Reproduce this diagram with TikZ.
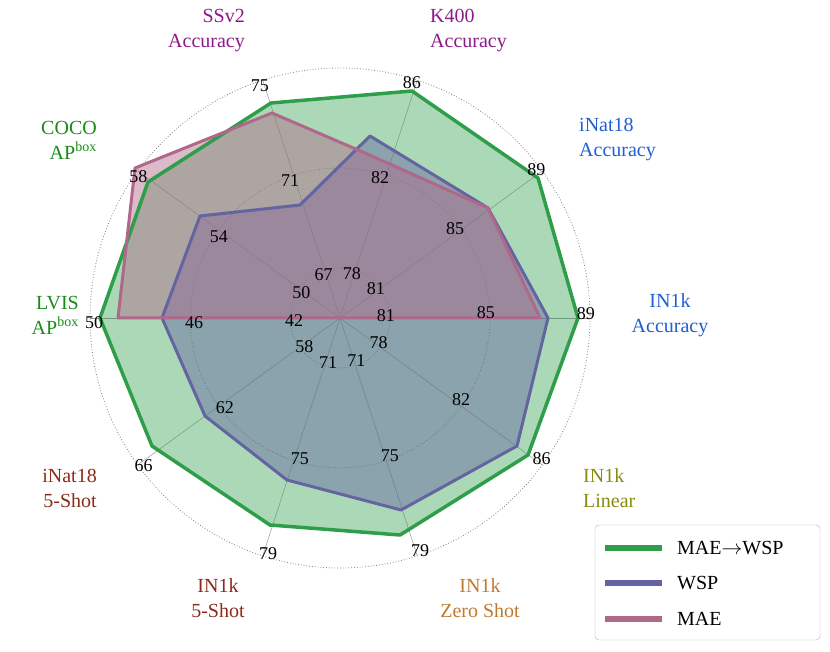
\documentclass[tikz,border=0pt]{standalone}
\usepackage{fontspec}
\setmainfont{Liberation Serif}
\begin{document}
\begin{tikzpicture}[x=1pt,y=-1pt,
  tick/.style={font=\fontsize{18}{18}\selectfont,inner sep=1pt},
  alab/.style={font=\fontsize{20}{25}\selectfont,align=center,inner sep=0pt}]
\definecolor{cgreen}{HTML}{2E9E4A}
\definecolor{cblue}{HTML}{6464A0}
\definecolor{cred}{HTML}{B0688A}
\definecolor{tblue}{HTML}{1F5FCF}
\definecolor{tpurp}{HTML}{8B1A8B}
\definecolor{tgreen}{HTML}{1A8A1A}
\definecolor{tbrown}{HTML}{8B2A1A}
\definecolor{torange}{HTML}{C07A30}
\definecolor{tolive}{HTML}{8A8A10}
\useasboundingbox (0,0) rectangle (830,652);
% grid
\foreach \r in {50,150,250} \draw[gray,dotted,line width=0.8pt] (340,318) circle (\r);
\foreach \a in {0,36,...,324} \draw[gray!80,line width=0.5pt] (340,318) -- ++({250*cos(\a)},{-250*sin(\a)});
% polygons
\fill[cgreen,opacity=0.4] (578,318)--(538,178)--(412,91)--(271,103)--(148,182)--(100,318)--(152,446)--(270,525)--(400,535)--(528,455)--cycle;
\fill[cblue,opacity=0.45] (548,318)--(488,208)--(370,136)--(300,205)--(200,216)--(162,318)--(205,416)--(287,480)--(401,510)--(517,446)--cycle;
\fill[cred,opacity=0.45] (540,318)--(488,208)--(365,153)--(272,113)--(135,168)--(118,318)--(340,318)--cycle;
\draw[draw=cgreen,line width=3.5pt,line join=round] (578,318)--(538,178)--(412,91)--(271,103)--(148,182)--(100,318)--(152,446)--(270,525)--(400,535)--(528,455)--cycle;
\draw[draw=cblue,line width=3pt,line join=round] (548,318)--(488,208)--(370,136)--(300,205)--(200,216)--(162,318)--(205,416)--(287,480)--(401,510)--(517,446)--cycle;
\draw[draw=cred,line width=3pt,line join=round] (540,318)--(488,208)--(365,153)--(272,113)--(135,168)--(118,318)--(340,318)--cycle;
% ticks
\foreach \a/\p/\q/\s in {0/81/85/89,36/81/85/89,72/78/82/86,108/67/71/75,144/50/54/58,180/42/46/50,216/58/62/66,252/71/75/79,288/71/75/79,324/78/82/86}{
  \node[tick] at ({340+46*cos(\a+3)},{318-46*sin(\a+3)}) {\p};
  \node[tick] at ({340+146*cos(\a+2)},{318-146*sin(\a+2)}) {\q};
  \node[tick] at ({340+246*cos(\a+1)},{318-246*sin(\a+1)}) {\s};
}
% axis labels
\node[alab,text=tblue] at (670,315) {IN1k\\Accuracy};
\node[alab,text=tblue,align=left,anchor=west] at (579,140) {iNat18\\Accuracy};
\node[alab,text=tpurp,align=left,anchor=west] at (430,31) {K400\\Accuracy};
\node[alab,text=tpurp,align=right,anchor=east] at (245,31) {SSv2\\Accuracy};
\node[alab,text=tgreen,align=right,anchor=east] at (97,140) {COCO\\AP\textsuperscript{box}};
\node[alab,text=tgreen,align=right,anchor=east] at (79,315) {LVIS\\AP\textsuperscript{box}};
\node[alab,text=tbrown,align=right,anchor=east] at (97,488) {iNat18\\5-Shot};
\node[alab,text=tbrown] at (218,598) {IN1k\\5-Shot};
\node[alab,text=torange] at (480,598) {IN1k\\Zero Shot};
\node[alab,text=tolive,align=left,anchor=west] at (583,488) {IN1k\\Linear};
% legend
\draw[gray!60,rounded corners=4pt,fill=white] (595,525) rectangle (820,640);
\draw[cgreen,line width=6pt] (605,548) -- (662,548);
\draw[cblue,line width=6pt] (605,583) -- (662,583);
\draw[cred,line width=6pt] (605,619) -- (662,619);
\node[alab,anchor=west] at (677,548) {MAE$\rightarrow$WSP};
\node[alab,anchor=west] at (677,583) {WSP};
\node[alab,anchor=west] at (677,619) {MAE};
\end{tikzpicture}
\end{document}
